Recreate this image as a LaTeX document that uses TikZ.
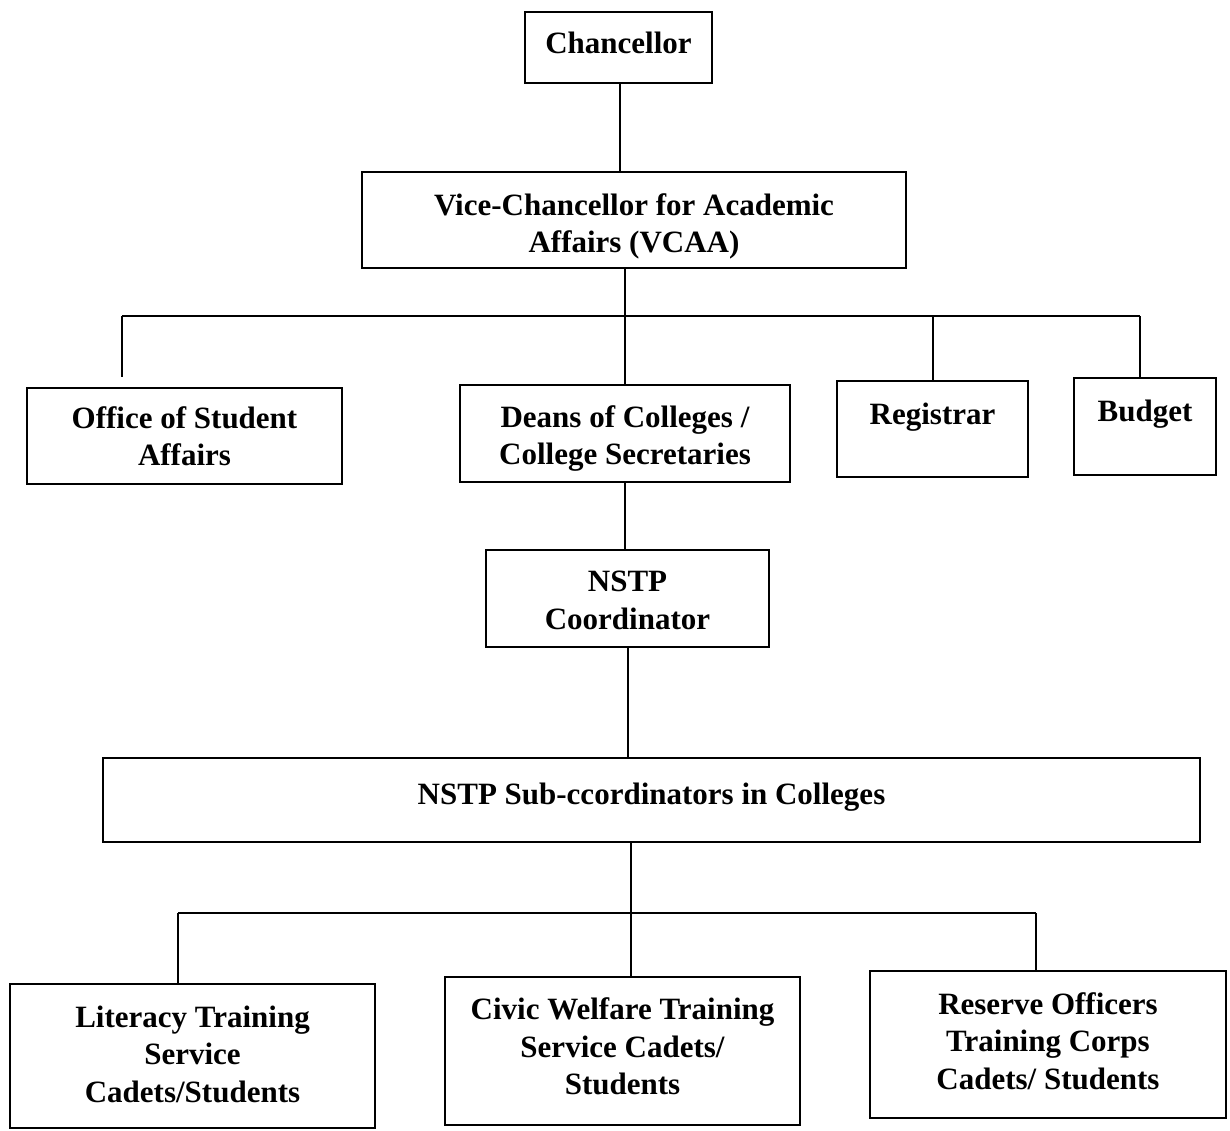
\documentclass[tikz,border=0pt]{standalone}
\usepackage{fontspec}
\setmainfont{Liberation Serif}
\begin{document}
\begin{tikzpicture}[x=0.5pt,y=-0.5pt,
  box/.style={draw=black,line width=1pt,align=center,inner sep=0pt,
    font=\fontsize{15.5}{18.75}\selectfont\bfseries},
  conn/.style={draw=black,line width=1pt}]
\useasboundingbox (0,0) rectangle (1230,1130);
\fill[white] (0,0) rectangle (1230,1130);

% top of the hierarchy
\node[box,minimum width=93.5pt,minimum height=35.5pt,text depth=5pt] (chan) at (618.5,47.5) {Chancellor};
\node[box,minimum width=272pt,minimum height=48pt] (vcaa) at (634,220)
  {\rule{0pt}{17.2pt}Vice-Chancellor for Academic\\Affairs (VCAA)};

% offices under the VCAA
\node[box,minimum width=157.5pt,minimum height=48pt] (osa) at (184.5,436)
  {Office of Student\\Affairs};
\node[box,minimum width=165pt,minimum height=48.5pt] (deans) at (625,433.5)
  {\rule{0pt}{15.7pt}Deans of Colleges /\\College Secretaries};
\node[box,minimum width=95.5pt,minimum height=48pt,text depth=15pt] (reg) at (932.5,429) {Registrar};
\node[box,minimum width=71pt,minimum height=48.5pt,text depth=16pt] (bud) at (1145,426.5) {Budget};

% NSTP line
\node[box,minimum width=141.5pt,minimum height=48.5pt] (coord) at (627.5,598.5)
  {\rule{0pt}{12.3pt}NSTP\\Coordinator};
\node[box,minimum width=548.5pt,minimum height=42pt,text depth=6.4pt] (sub) at (651.5,800)
  {NSTP Sub-ccordinators in Colleges};

% the three components
\node[box,minimum width=182.5pt,minimum height=72pt] (lit) at (192.5,1056)
  {Literacy Training\\Service\\Cadets/Students\rule[-2.2pt]{0pt}{0pt}};
\node[box,minimum width=177.5pt,minimum height=74pt] (civic) at (622.5,1051)
  {Civic Welfare Training\\Service Cadets/\\Students\rule[-4.5pt]{0pt}{0pt}};
\node[box,minimum width=178pt,minimum height=73.5pt] (rotc) at (1048,1044.5)
  {Reserve Officers\\Training Corps\\Cadets/ Students\rule[-3.7pt]{0pt}{0pt}};

% connectors
\draw[conn] ([xshift=0.75pt]chan.south) -- ([xshift=0.75pt]chan.south |- vcaa.north);

\coordinate (busL) at (122,316);
\coordinate (busR) at (1140,316);
\draw[conn] (vcaa.south -| deans.north) -- (deans.north);
\draw[conn] (busL) -- (busR);
\draw[conn] (busL) -- ([yshift=5pt]osa.north -| busL);
\draw[conn] (busL -| reg.north) -- (reg.north);
\draw[conn] (busR) -- (bud.north -| busR);

\draw[conn] (deans.south) -- (deans.south |- coord.north);
\draw[conn] (coord.south) -- (coord.south |- sub.north);

\coordinate (bus2L) at (178,913);
\coordinate (bus2M) at (631,913);
\coordinate (bus2R) at (1036,913);
\draw[conn] (sub.south -| bus2M) -- (civic.north -| bus2M);
\draw[conn] (bus2L) -- (bus2R);
\draw[conn] (bus2L) -- (bus2L |- lit.north);
\draw[conn] (bus2R) -- (bus2R |- rotc.north);
\end{tikzpicture}
\end{document}
